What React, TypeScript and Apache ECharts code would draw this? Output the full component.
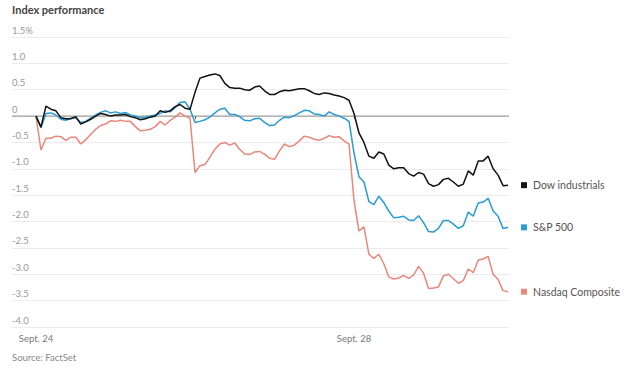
import React, { useEffect, useRef } from "react";
import * as echarts from "echarts";

// 32 intraday samples per trading session
const SLOTS = 32;
const dayLabels = ["Sept. 24", "Sept. 27", "Sept. 28"];
const labeledDays = [0, 2];
const yTicks = [-4, -3.5, -3, -2.5, -2, -1.5, -1, -0.5, 0, 0.5, 1, 1.5];

const dowDay1 = [0, -0.21, 0.19, 0.13, 0.1, -0.03, -0.05, -0.05, -0.01, -0.15, -0.11, -0.06, 0.0, 0.05, 0.03, 0.0, 0.02, 0.02, 0.03, -0.01, -0.03, -0.07, -0.05, -0.02, 0.0, 0.1, 0.07, 0.1, 0.18, 0.22, 0.15, 0.13];
const dowDay2 = [0.45, 0.72, 0.75, 0.78, 0.8, 0.77, 0.62, 0.54, 0.53, 0.53, 0.5, 0.49, 0.55, 0.57, 0.48, 0.41, 0.41, 0.46, 0.49, 0.48, 0.5, 0.52, 0.52, 0.48, 0.43, 0.41, 0.44, 0.43, 0.4, 0.38, 0.35, 0.3];
const dowDay3 = [0.05, -0.32, -0.5, -0.76, -0.8, -0.68, -0.72, -0.93, -1.0, -0.98, -0.98, -1.09, -1.14, -1.07, -1.1, -1.28, -1.33, -1.3, -1.2, -1.18, -1.25, -1.33, -1.29, -1.04, -1.12, -0.85, -0.85, -0.76, -1.0, -1.12, -1.32, -1.31];

const spDay1 = [0, -0.22, 0.05, 0.06, 0.02, -0.06, -0.08, -0.04, -0.03, -0.12, -0.1, -0.04, 0.02, 0.07, 0.1, 0.06, 0.08, 0.05, 0.07, 0.02, 0.0, -0.03, -0.02, 0.0, 0.02, 0.05, 0.1, 0.08, 0.16, 0.26, 0.27, 0.13];
const spDay2 = [-0.12, -0.1, -0.07, -0.02, 0.06, 0.13, 0.15, 0.03, 0.03, -0.01, -0.08, -0.09, -0.05, -0.04, -0.12, -0.18, -0.17, -0.08, -0.02, -0.03, 0.01, 0.06, 0.11, 0.1, 0.04, 0.03, 0.0, 0.08, 0.03, 0.0, -0.04, -0.1];
const spDay3 = [-0.7, -1.15, -1.25, -1.62, -1.68, -1.52, -1.64, -1.8, -1.93, -1.92, -1.9, -1.97, -1.98, -1.89, -2.02, -2.19, -2.2, -2.13, -1.98, -1.98, -2.05, -2.13, -2.08, -1.82, -1.9, -1.65, -1.63, -1.56, -1.8, -1.9, -2.13, -2.11];

const nasDay1 = [0, -0.64, -0.42, -0.42, -0.38, -0.39, -0.46, -0.4, -0.4, -0.53, -0.45, -0.35, -0.25, -0.18, -0.15, -0.09, -0.1, -0.08, -0.1, -0.1, -0.2, -0.28, -0.27, -0.25, -0.2, -0.1, -0.17, -0.08, -0.02, 0.06, 0.0, -0.04];
const nasDay2 = [-1.07, -0.94, -0.92, -0.78, -0.63, -0.53, -0.5, -0.55, -0.51, -0.63, -0.72, -0.73, -0.68, -0.67, -0.72, -0.8, -0.82, -0.66, -0.53, -0.58, -0.55, -0.47, -0.38, -0.4, -0.44, -0.46, -0.42, -0.37, -0.4, -0.39, -0.47, -0.53];
const nasDay3 = [-1.6, -2.18, -2.1, -2.62, -2.7, -2.62, -2.8, -3.05, -3.09, -3.07, -3.02, -3.08, -3.01, -2.85, -2.98, -3.27, -3.26, -3.24, -3.03, -3.0, -3.08, -3.17, -3.12, -2.9, -2.97, -2.73, -2.71, -2.66, -3.0, -3.1, -3.31, -3.33];

const seriesNames = ["Dow industrials", "S&P 500", "Nasdaq Composite"];
const seriesColors = ["#111111", "#2a9bd3", "#e8877a"];
const seriesDays = [
  [dowDay1, dowDay2, dowDay3],
  [spDay1, spDay2, spDay3],
  [nasDay1, nasDay2, nasDay3],
];

const FONT = "Lato, 'Noto Sans', sans-serif";

function toPoints(days: number[][]) {
  const pts: [number, number][] = [];
  days.forEach((vals, d) => {
    vals.forEach((v, i) => pts.push([d + i / SLOTS, v]));
  });
  return pts;
}

export default function App() {
  const ref = useRef<HTMLDivElement>(null);
  useEffect(() => {
    document.body.style.margin = "0";
    if (!ref.current) return;
    const chart = echarts.init(ref.current, null, { renderer: "svg" });
    chart.setOption({
      animation: false,
      backgroundColor: "#ffffff",
      grid: { left: 12, right: 121, top: 37, bottom: 44, containLabel: false },
      xAxis: {
        type: "value",
        min: -24 / 159,
        max: 473 / 159,
        splitLine: { show: false },
        axisLine: { show: false },
        axisTick: {
          show: true,
          customValues: [0, 1, 2],
          length: 3,
          inside: false,
          lineStyle: { color: "#555", width: 1 },
        },
        axisLabel: {
          customValues: labeledDays,
          formatter: (v: number) => dayLabels[Math.round(v)],
          color: "#777",
          fontSize: 9.5,
          fontFamily: FONT,
          margin: 6,
        },
      },
      yAxis: {
        type: "value",
        min: -4,
        max: 1.5,
        interval: 0.5,
        axisLine: { show: false },
        axisTick: { show: false },
        axisLabel: {
          inside: true,
          margin: 0,
          verticalAlign: "bottom",
          padding: [0, 0, 2, 0],
          color: "#999",
          fontSize: 9.5,
          fontFamily: FONT,
          formatter: (v: number) => {
            if (v === 0) return "0";
            const s = v.toFixed(1);
            return v === yTicks[yTicks.length - 1] ? s + "%" : s;
          },
        },
        splitLine: { lineStyle: { color: "#ececec", width: 1 } },
      },
      graphic: [
        {
          type: "text",
          left: 12,
          top: 4,
          style: {
            text: "Index performance",
            fill: "#444",
            font: `bold 11px ${FONT}`,
          },
        },
        {
          type: "text",
          left: 12,
          top: 352,
          style: {
            text: "Source: FactSet",
            fill: "#888",
            font: `9.5px ${FONT}`,
          },
        },
      ],
      series: [
        {
          type: "line",
          data: [[-24 / 159, 0], [473 / 159, 0]],
          showSymbol: false,
          silent: true,
          lineStyle: { color: "#8a8a8a", width: 1 },
          z: 1,
        },
        ...seriesNames.map((name, k) => ({
          type: "line",
          name,
          data: toPoints(seriesDays[k]),
          showSymbol: false,
          lineStyle: { color: seriesColors[k], width: 1.5 },
          z: 3 - k + 2,
          endLabel: {
            show: true,
            distance: 13,
            formatter: () => `{sq|}{t|${name}}`,
            rich: {
              sq: { width: 6, height: 6, backgroundColor: seriesColors[k] },
              t: {
                padding: [0, 0, 0, 6],
                color: "#555",
                fontSize: 10.5,
                fontFamily: FONT,
              },
            },
          },
        })),
      ],
    });
    return () => chart.dispose();
  }, []);
  return <div ref={ref} style={{ width: 630, height: 371 }} />;
}
